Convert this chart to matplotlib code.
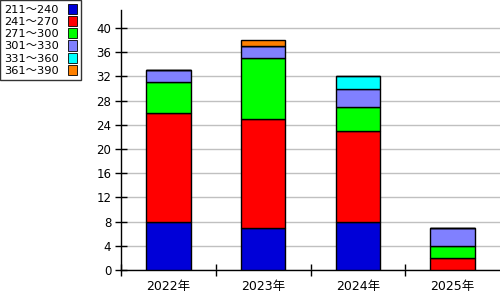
import numpy as np
import matplotlib.pyplot as plt
from matplotlib.patches import Patch

plt.rcParams['font.family'] = ['DejaVu Sans', 'Noto Sans CJK JP']

years = ['2022年', '2023年', '2024年', '2025年']
ranges = ['211～240', '241～270', '271～300', '301～330', '331～360', '361～390']
colors = ['#0000d8', '#ff0000', '#00ff00', '#8080ff', '#00ffff', '#ff8000']

c211 = [8, 7, 8, 0]
c241 = [18, 18, 15, 2]
c271 = [5, 10, 4, 2]
c301 = [2, 2, 3, 3]
c331 = [0, 0, 2, 0]
c361 = [0, 1, 0, 0]
series = [c211, c241, c271, c301, c331, c361]

fig = plt.figure(figsize=(5, 3), dpi=100)
ax = fig.add_axes([0.242, 0.1, 0.758, 0.867])

x = np.arange(len(years))
bottom = np.zeros(len(years))
for vals, col in zip(series, colors):
    vals = np.array(vals, dtype=float)
    ax.bar(x, vals, bottom=bottom, width=0.47, color=col,
           edgecolor='black', linewidth=1, zorder=3)
    bottom += vals

ax.set_xlim(-0.5, 3.5)
ax.set_ylim(0, 43)
ax.set_yticks(np.arange(0, 41, 4))
ax.yaxis.grid(True, color='#c0c0c0', linewidth=1, zorder=0)
ax.set_axisbelow(True)

# category labels centered, ticks at the boundaries
ax.set_xticks(x)
ax.set_xticklabels(years, fontsize=9)
ax.tick_params(axis='x', length=0, pad=7)
ax.set_xticks(np.arange(-0.5, 3.5, 1), minor=True)
ax.tick_params(axis='x', which='minor', length=9, width=1, direction='inout')
ax.tick_params(axis='y', labelsize=8.5, length=8, width=1, direction='inout', pad=3)

for s in ['top', 'right']:
    ax.spines[s].set_visible(False)
ax.spines['left'].set_linewidth(1)
ax.spines['bottom'].set_linewidth(1)

handles = [Patch(facecolor=c, edgecolor='black', linewidth=0.6) for c in colors]
leg = fig.legend(handles, ranges, loc='upper left', bbox_to_anchor=(0.0, 1.0),
                 markerfirst=False, fontsize=8.2, frameon=True, fancybox=False,
                 edgecolor='black', handlelength=0.75, handleheight=1.0,
                 handletextpad=0.8, labelspacing=0.1, borderpad=0.35,
                 borderaxespad=0)
leg.get_frame().set_linewidth(1)

fig.savefig('out.png', dpi=100)
